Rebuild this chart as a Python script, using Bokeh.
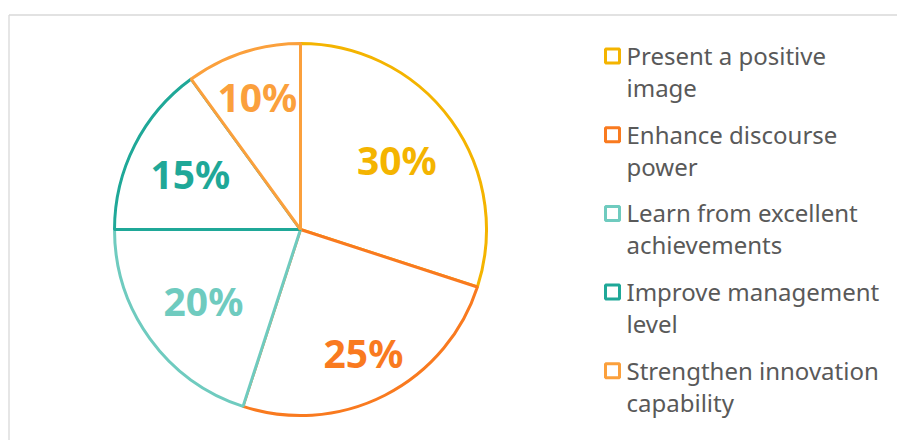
import numpy as np
from bokeh.plotting import figure
from bokeh.models import Range1d, ColumnDataSource
from bokeh.core.properties import value
from bokeh.embed import file_html
from bokeh.resources import INLINE

# ---- data ----
categories = ["Present a positive image", "Enhance discourse power",
              "Learn from excellent achievements", "Improve management level",
              "Strengthen innovation capability"]
legend_first = ["Present a positive", "Enhance discourse", "Learn from excellent",
                "Improve management", "Strengthen innovation"]
legend_second = ["image", "power", "achievements", "level", "capability"]
shares = [30, 25, 20, 15, 10]
colors = ["#F4B400", "#F97A1F", "#6FCBBF", "#1FA898", "#FBA03C"]

# ---- layout (styles / positions) ----
W, H = 897, 440
def px(x): return x
def py(y): return H - y

cx, cy, r = px(300), py(229), 186
label_radius = [0.64, 0.745, 0.645, 0.665, 0.75]

p = figure(width=W, height=H, x_range=Range1d(0, W), y_range=Range1d(0, H),
           output_backend="svg", toolbar_location=None, min_border=0)
p.axis.visible = False
p.grid.visible = False
p.outline_line_color = None
p.background_fill_color = "white"
p.border_fill_color = "white"

# chart-area border (top and left visible)
p.segment(x0=[8.5, 8.5], y0=[py(14.5), py(14.5)], x1=[W, 8.5], y1=[py(14.5), 0],
          line_color="#D9D9D9", line_width=1.3)

fr = np.array(shares, dtype=float) / sum(shares)
cum = np.concatenate([[0.0], np.cumsum(fr)])
start = np.pi / 2 - 2 * np.pi * cum[:-1]
end = np.pi / 2 - 2 * np.pi * cum[1:]
mid = (start + end) / 2

src = ColumnDataSource(dict(cat=categories, share=shares, color=colors,
                            start=start, end=end,
                            lx=cx + np.array(label_radius) * r * np.cos(mid),
                            ly=cy + np.array(label_radius) * r * np.sin(mid),
                            lab=[f"{s}%" for s in shares]))

p.wedge(x=cx, y=cy, radius=r, start_angle="start", end_angle="end",
        direction="clock", fill_color="white", line_color="color",
        line_width=3, source=src)

p.text(x="lx", y="ly", text="lab", text_color="color", text_align="center",
       text_baseline="middle", text_font=value("Noto Sans"),
       text_font_style="bold", text_font_size="39px", source=src)

# legend
n = len(categories)
idx = np.arange(n)
leg = ColumnDataSource(dict(
    mx=[px(612)] * n, my=[py(55.5 + 78.7 * i) for i in idx],
    tx=[px(626)] * n,
    t1y=[py(55 + 78.7 * i) for i in idx],
    t2y=[py(87 + 78.7 * i) for i in idx],
    first=legend_first, second=legend_second, color=colors))
p.scatter(x="mx", y="my", marker="square", size=14, fill_color="white",
          line_color="color", line_width=3, source=leg)
for col, ycol in (("first", "t1y"), ("second", "t2y")):
    p.text(x="tx", y=ycol, text=col, text_color="#595959", text_align="left",
           text_baseline="middle", text_font=value("Noto Sans"),
           text_font_size="24px", source=leg)

open("out.html", "w").write(file_html(p, INLINE))
